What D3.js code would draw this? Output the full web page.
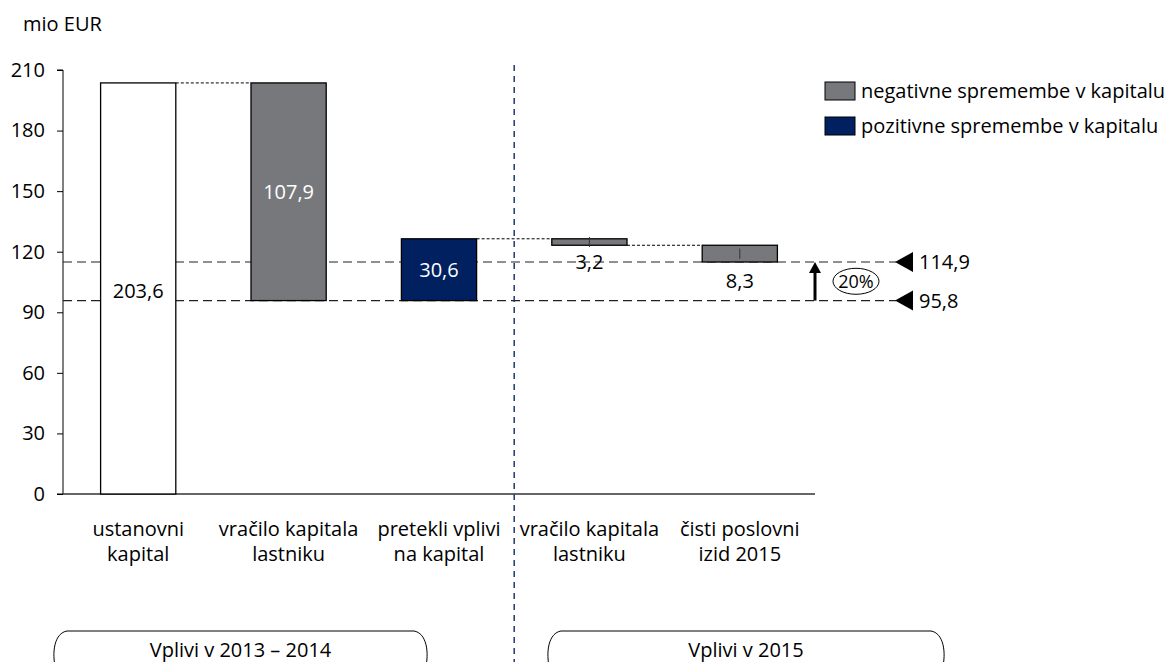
<!DOCTYPE html>
<html>
<head>
<meta charset="utf-8">
<script src="https://cdn.jsdelivr.net/npm/d3@7"></script>
<style>
  body { margin: 0; background: #fff; }
  svg { font-family: "Open Sans", "Noto Sans", sans-serif; }
  text { fill: #000; }
</style>
</head>
<body>
<svg width="1168" height="662"></svg>
<script>
var categories = [
  ["ustanovni", "kapital"],
  ["vračilo kapitala", "lastniku"],
  ["pretekli vplivi", "na kapital"],
  ["vračilo kapitala", "lastniku"],
  ["čisti poslovni", "izid 2015"]
];
// start/end of each waterfall step
var starts = [0, 203.6, 95.8, 126.4, 123.2];
var ends = [203.6, 95.8, 126.4, 123.2, 114.9];
var kinds = ["base", "neg", "pos", "neg", "neg"];
var valueLabels = ["203,6", "107,9", "30,6", "3,2", "8,3"];
var yTicks = [0, 30, 60, 90, 120, 150, 180, 210];
var refLines = [114.9, 95.8];
var refLabels = ["114,9", "95,8"];
var groups = [
  {label: "Vplivi v 2013 – 2014", from: 0, to: 2},
  {label: "Vplivi v 2015", from: 3, to: 4}
];
var legendItems = [
  {kind: "neg", label: "negativne spremembe v kapitalu"},
  {kind: "pos", label: "pozitivne spremembe v kapitalu"}
];

var colors = {base: "#ffffff", neg: "#77787b", pos: "#002060"};
var fs = "20px";

var svg = d3.select("svg"),
    margin = {top: 70, left: 63},
    width = 752,
    height = 424,
    g = svg.append("g").attr("transform", "translate(" + margin.left + "," + margin.top + ")");

var x = d3.scaleBand().domain(d3.range(categories.length)).range([0, width]).paddingInner(0.5).paddingOuter(0.25),
    y = d3.scaleLinear().domain([0, 210]).range([height, 0]);

// y axis
var yAxis = g.append("g")
    .call(d3.axisLeft(y).tickValues(yTicks).tickSize(6).tickPadding(12));
yAxis.select(".domain").attr("stroke", "#000").attr("d", "M-6,0H0V" + height + "H-6");
yAxis.selectAll(".tick line").attr("stroke", "#000");
yAxis.selectAll(".tick text").style("font-size", fs).style("font-family", "'Open Sans', sans-serif").attr("fill", "#000");

svg.append("text").attr("x", 23).attr("y", 31).style("font-size", fs).text("mio EUR");

// x axis baseline
g.append("line")
    .attr("x1", 0).attr("x2", width)
    .attr("y1", y(0)).attr("y2", y(0))
    .attr("stroke", "#333").attr("stroke-width", 1.5);

// reference dashed lines
var refEnd = 833;
g.selectAll(".ref")
  .data(refLines)
  .enter().append("line")
    .attr("x1", 0).attr("x2", refEnd)
    .attr("y1", function(d) { return y(d); }).attr("y2", function(d) { return y(d); })
    .attr("stroke", "#222").attr("stroke-width", 1.2)
    .attr("stroke-dasharray", "9,5");

// connectors between bars
var connectors = [];
for (var i = 0; i < starts.length - 1; i++) {
  connectors.push({i: i, v: ends[i]});
}
g.selectAll(".conn")
  .data(connectors.filter(function(c) { return c.i !== 1; }))
  .enter().append("line")
    .attr("x1", function(d) { return x(d.i) + x.bandwidth(); })
    .attr("x2", function(d) { return x(d.i + 1); })
    .attr("y1", function(d) { return y(d.v); })
    .attr("y2", function(d) { return y(d.v); })
    .attr("stroke", "#000").attr("stroke-width", 1)
    .attr("stroke-dasharray", "3,2");

// bars
g.selectAll(".bar")
  .data(starts)
  .enter().append("rect")
    .attr("x", function(d, i) { return x(i); })
    .attr("width", x.bandwidth())
    .attr("y", function(d, i) { return y(Math.max(d, ends[i])); })
    .attr("height", function(d, i) { return Math.abs(y(d) - y(ends[i])); })
    .attr("fill", function(d, i) { return colors[kinds[i]]; })
    .attr("stroke", "#000").attr("stroke-width", 1.3);

// small center ticks on thin bars
[3, 4].forEach(function(i) {
  var mid = (starts[i] + ends[i]) / 2;
  g.append("line")
    .attr("x1", x(i) + x.bandwidth() / 2).attr("x2", x(i) + x.bandwidth() / 2)
    .attr("y1", y(mid) - 5).attr("y2", y(mid) + 5)
    .attr("stroke", "#333").attr("stroke-width", 1);
});

// value labels
var labelPos = [
  {v: 100.5, fill: "#000"},
  {v: 149.8, fill: "#fff"},
  {v: 110.9, fill: "#fff"},
  {v: 114.9, fill: "#000"},
  {v: 105.5, fill: "#000"}
];
g.selectAll(".vlabel")
  .data(valueLabels)
  .enter().append("text")
    .attr("x", function(d, i) { return x(i) + x.bandwidth() / 2; })
    .attr("y", function(d, i) { return y(labelPos[i].v); })
    .attr("dy", "0.35em")
    .attr("text-anchor", "middle")
    .style("font-size", fs)
    .style("fill", function(d, i) { return labelPos[i].fill; })
    .text(function(d) { return d; });

// vertical group separator
var sepX = (x(2) + x.bandwidth() + x(3)) / 2;
g.append("line")
    .attr("x1", sepX).attr("x2", sepX)
    .attr("y1", -5).attr("y2", 600)
    .attr("stroke", "#1f3a6e").attr("stroke-width", 1.5)
    .attr("stroke-dasharray", "6,5");

// arrow from 95.8 to 114.9
var arrowX = width;
g.append("line")
    .attr("x1", arrowX).attr("x2", arrowX)
    .attr("y1", y(refLines[1])).attr("y2", y(refLines[0]) + 9)
    .attr("stroke", "#000").attr("stroke-width", 3);
g.append("path")
    .attr("d", "M" + (arrowX - 6) + "," + (y(refLines[0]) + 11) + "L" + arrowX + "," + y(refLines[0]) + "L" + (arrowX + 6) + "," + (y(refLines[0]) + 11) + "Z")
    .attr("fill", "#000");
var midRef = y((refLines[0] + refLines[1]) / 2);
g.append("ellipse")
    .attr("cx", arrowX + 41).attr("cy", midRef)
    .attr("rx", 23).attr("ry", 13)
    .attr("fill", "#fff").attr("stroke", "#000").attr("stroke-width", 1);
g.append("text")
    .attr("x", arrowX + 41).attr("y", midRef).attr("dy", "0.35em")
    .attr("text-anchor", "middle").style("font-size", "18px").text("20%");

// triangles and labels for the reference values
refLines.forEach(function(v, i) {
  var ty = y(v);
  g.append("path")
    .attr("d", "M" + (refEnd - 1) + "," + ty + "L" + (refEnd + 17) + "," + (ty - 10) + "L" + (refEnd + 17) + "," + (ty + 10) + "Z")
    .attr("fill", "#000");
  g.append("text")
    .attr("x", refEnd + 23).attr("y", ty).attr("dy", "0.35em")
    .style("font-size", fs).text(refLabels[i]);
});

// category labels
var cat = g.selectAll(".cat")
  .data(categories)
  .enter().append("text")
    .attr("text-anchor", "middle")
    .attr("transform", function(d, i) { return "translate(" + (x(i) + x.bandwidth() / 2) + "," + (y(0) + 42) + ")"; })
    .style("font-size", fs);
cat.selectAll("tspan")
  .data(function(d) { return d; })
  .enter().append("tspan")
    .attr("x", 0)
    .attr("dy", function(d, j) { return j === 0 ? 0 : 25; })
    .text(function(d) { return d; });

// group brackets (rounded boxes)
var boxTop = 137;
var boxExt = [[-10, 365], [484, 882]];
groups.forEach(function(gr, k) {
  var x0 = boxExt[k][0], x1 = boxExt[k][1], top = y(0) + boxTop, r = 14, bottom = top + 40;
  g.append("path")
    .attr("d", "M" + (x0 + 3) + "," + bottom + "C" + (x0 - 2) + "," + (top + 20) + " " + (x0 + 2) + "," + (top + 2) + " " + (x0 + r) + "," + top +
               "L" + (x1 - r) + "," + top + "C" + (x1 - 2) + "," + (top + 2) + " " + (x1 + 2) + "," + (top + 20) + " " + (x1 - 3) + "," + bottom)
    .attr("fill", "none").attr("stroke", "#000").attr("stroke-width", 1);
  g.append("text")
    .attr("x", (x0 + x1) / 2).attr("y", top + 19).attr("dy", "0.35em")
    .attr("text-anchor", "middle").style("font-size", fs).text(gr.label);
});

// legend
var legend = svg.append("g").attr("transform", "translate(825,82)");
var li = legend.selectAll(".li")
  .data(legendItems)
  .enter().append("g")
    .attr("transform", function(d, i) { return "translate(0," + i * 35 + ")"; });
li.append("rect")
    .attr("width", 30).attr("height", 18)
    .attr("fill", function(d) { return colors[d.kind]; })
    .attr("stroke", "#000").attr("stroke-width", 1);
li.append("text")
    .attr("x", 36).attr("y", 9).attr("dy", "0.35em")
    .style("font-size", fs)
    .text(function(d) { return d.label; });
</script>
</body>
</html>
